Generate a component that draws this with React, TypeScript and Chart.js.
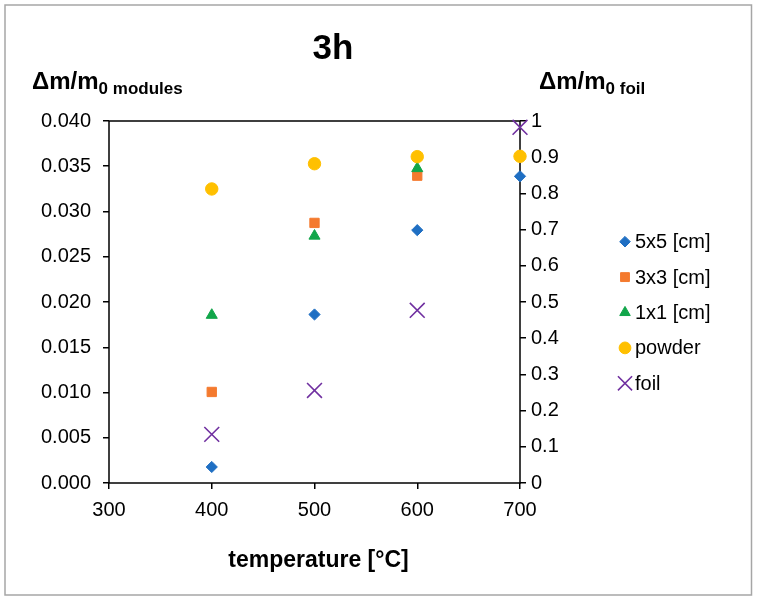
import React, { useEffect, useRef } from 'react';
import { Chart, registerables } from 'chart.js';
import { drawPoint } from 'chart.js/helpers';

Chart.register(...registerables);

const FONT = "'Liberation Sans', Arial, sans-serif";

const temperatures = [400, 500, 600, 700];
const xTicks = [300, 400, 500, 600, 700];
const series5x5 = [0.00177, 0.01862, 0.02794, 0.03389];
const series3x3 = [0.01006, 0.02874, 0.03396, null];
const series1x1 = [0.01855, 0.0273, 0.03476, null];
const seriesPowder = [0.03249, 0.03528, 0.03606, 0.0361];
const seriesFoil = [0.1343, 0.2557, 0.477, 0.9826];

const seriesNames = ['5x5 [cm]', '3x3 [cm]', '1x1 [cm]', 'powder', 'foil'];
const seriesValues = [series5x5, series3x3, series1x1, seriesPowder, seriesFoil];
const seriesColors = ['#1F6FC3', '#F47A2E', '#11A64A', '#FFC000', '#7030A0'];
const seriesStyles = ['rectRot', 'rect', 'triangle', 'circle', 'crossRot'];
const seriesRadius = [5.6, 6.6, 6.4, 6.2, 10.5];
const seriesAxis = ['y', 'y', 'y', 'y', 'y1'];

const chartTitle = '3h';
const xTitle = 'temperature [°C]';
const yLeftMain = 'Δm/m';
const yLeftSub = '0 modules';
const yRightMain = 'Δm/m';
const yRightSub = '0 foil';

function drawSubText(ctx: CanvasRenderingContext2D, x: number, y: number, main: string, sub: string) {
  ctx.textAlign = 'left';
  ctx.textBaseline = 'alphabetic';
  ctx.font = `bold 24px ${FONT}`;
  ctx.fillText(main, x, y);
  const w = ctx.measureText(main).width;
  ctx.font = `bold 17px ${FONT}`;
  ctx.fillText(sub, x + w, y + 4.5);
}

const decorPlugin = {
  id: 'decor',
  beforeDraw(chart: any) {
    const { ctx } = chart;
    ctx.save();
    ctx.fillStyle = '#ffffff';
    ctx.fillRect(0, 0, chart.width, chart.height);
    ctx.restore();
  },
  beforeDatasetsDraw(chart: any) {
    const { ctx, chartArea: a } = chart;
    ctx.save();
    ctx.strokeStyle = '#000000';
    ctx.lineWidth = 1.5;
    ctx.strokeRect(a.left, a.top, a.right - a.left, a.bottom - a.top);
    ctx.restore();
  },
  afterDraw(chart: any) {
    const { ctx, chartArea: a } = chart;
    ctx.save();
    ctx.strokeStyle = '#a6a6a6';
    ctx.lineWidth = 1.5;
    ctx.strokeRect(5, 5, 746.5, 590);

    ctx.fillStyle = '#000000';
    ctx.font = `bold 35px ${FONT}`;
    ctx.textAlign = 'center';
    ctx.textBaseline = 'alphabetic';
    ctx.fillText(chartTitle, 333, 59);

    drawSubText(ctx, 32, 89, yLeftMain, yLeftSub);
    drawSubText(ctx, 539, 89, yRightMain, yRightSub);

    ctx.font = `bold 23px ${FONT}`;
    ctx.textAlign = 'center';
    ctx.fillText(xTitle, (a.left + a.right) / 2 + 4, 567);

    const n = chart.data.datasets.length;
    const spacing = 35.4;
    const cy = 312.5;
    const y0 = cy - ((n - 1) / 2) * spacing;
    chart.data.datasets.forEach((ds: any, i: number) => {
      const y = y0 + i * spacing;
      ctx.fillStyle = ds.backgroundColor;
      ctx.strokeStyle = ds.borderColor;
      ctx.lineWidth = ds.pointBorderWidth;
      drawPoint(ctx, {
        pointStyle: ds.pointStyle,
        rotation: 0,
        radius: ds.pointRadius * 0.95,
        borderWidth: ds.pointBorderWidth,
      } as any, 625, y);
      ctx.fillStyle = '#000000';
      ctx.font = `20px ${FONT}`;
      ctx.textAlign = 'left';
      ctx.textBaseline = 'middle';
      ctx.fillText(ds.label, 635, y + 1);
    });
    ctx.restore();
  },
};

export default function App() {
  const ref = useRef<HTMLCanvasElement | null>(null);

  useEffect(() => {
    if (!ref.current) return;
    const datasets = seriesNames.map((name, i) => ({
      label: name,
      data: temperatures
        .map((t, j) => ({ x: t, y: seriesValues[i][j] }))
        .filter((p) => p.y !== null),
      yAxisID: seriesAxis[i],
      backgroundColor: seriesColors[i],
      borderColor: seriesColors[i],
      pointStyle: seriesStyles[i],
      pointRadius: seriesRadius[i],
      pointHoverRadius: seriesRadius[i],
      pointBorderWidth: seriesStyles[i] === 'crossRot' ? 1.6 : 1,
      showLine: false,
      clip: false,
      order: seriesNames.length - i,
    }));

    const tickFont = { family: FONT, size: 20 };
    const gridCfg = {
      drawOnChartArea: false,
      drawTicks: true,
      tickLength: 6,
      color: '#000000',
      lineWidth: 1.5,
    };

    const chart = new Chart(ref.current, {
      type: 'scatter',
      data: { datasets: datasets as any },
      plugins: [decorPlugin],
      options: {
        responsive: false,
        animation: false,
        events: [],
        layout: { padding: { left: 0, right: 178, top: 121, bottom: 80 } },
        plugins: {
          legend: { display: false },
          title: { display: false },
          tooltip: { enabled: false },
        },
        scales: {
          x: {
            type: 'linear',
            min: xTicks[0],
            max: xTicks[xTicks.length - 1],
            afterBuildTicks: (s: any) => {
              s.ticks = xTicks.map((v) => ({ value: v }));
            },
            ticks: { color: '#000000', font: tickFont, padding: 9 },
            grid: gridCfg,
            border: { display: false },
            afterFit: (s: any) => {
              s.height = 40;
            },
          },
          y: {
            type: 'linear',
            position: 'left',
            min: 0,
            max: 0.04,
            ticks: {
              stepSize: 0.005,
              color: '#000000',
              font: tickFont,
              padding: 12,
              callback: (v: any) => Number(v).toFixed(3),
            },
            grid: gridCfg,
            border: { display: false },
            afterFit: (s: any) => {
              s.width = 109;
            },
          },
          y1: {
            type: 'linear',
            position: 'right',
            min: 0,
            max: 1,
            ticks: {
              stepSize: 0.1,
              color: '#000000',
              font: tickFont,
              padding: 5,
              callback: (v: any) => String(Number(Number(v).toFixed(1))),
            },
            grid: gridCfg,
            border: { display: false },
            afterFit: (s: any) => {
              s.width = 60;
            },
          },
        },
      } as any,
    });
    return () => chart.destroy();
  }, []);

  return (
    <div style={{ position: 'absolute', left: 0, top: 0, width: 758, height: 603 }}>
      <canvas ref={ref} width={758} height={603} style={{ display: 'block', width: 758, height: 603 }} />
    </div>
  );
}
